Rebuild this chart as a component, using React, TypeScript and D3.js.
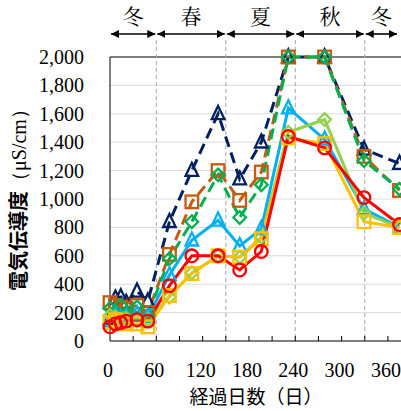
import React from "react";
import * as d3 from "d3";

const days = [0, 7, 14, 21, 35, 49, 77, 106, 140, 168, 196, 231, 278, 329, 375];

const redVals = [100, 120, 130, 140, 150, 140, 390, 600, 600, 500, 630, 1440, 1360, 1010, 820];
const goldVals = [130, 150, 140, 120, 120, 100, 320, 475, 600, 590, 720, 1430, 1390, 840, 800];
const lgreenVals = [180, 170, 150, 160, 140, 150, 310, 480, 600, 590, 730, 1470, 1560, 900, 800];
const blueVals = [140, 180, 160, 170, 190, 170, 465, 710, 850, 670, 790, 1640, 1420, 930, 800];
const brownVals = [270, 250, 240, 230, 250, 200, 610, 980, 1200, 990, 1190, 2000, 2000, 1300, 1060];
const greenVals = [230, 210, 250, 200, 240, 180, 580, 840, 1170, 870, 1100, 2000, 2000, 1270, 1070];
const navyVals = [160, 300, 310, 270, 350, 280, 840, 1200, 1600, 1140, 1400, 2000, 2000, 1350, 1250];

const yTicks = [0, 200, 400, 600, 800, 1000, 1200, 1400, 1600, 1800, 2000];
const xTicks = [0, 60, 120, 180, 240, 300, 360];
const xMinor = d3.range(30, 390, 30);
const seasonBounds = [0, 60, 150, 240, 330, 378];
const seasonNames = ["冬", "春", "夏", "秋", "冬"];
const seasonDividers = [60, 150, 240, 330];

type Series = { vals: number[]; color: string; dashed: boolean; marker: string };
const seriesList: Series[] = [
  { vals: navyVals, color: "#002060", dashed: true, marker: "tri" },
  { vals: brownVals, color: "#C55A11", dashed: true, marker: "sq" },
  { vals: greenVals, color: "#00B050", dashed: true, marker: "dia" },
  { vals: blueVals, color: "#00B0F0", dashed: false, marker: "tri" },
  { vals: lgreenVals, color: "#92D050", dashed: false, marker: "dia" },
  { vals: goldVals, color: "#FFC000", dashed: false, marker: "sq" },
  { vals: redVals, color: "#FF0000", dashed: false, marker: "circ" },
];

const W = 401;
const H = 411;
const x = d3.scaleLinear().domain([0, 390]).range([110, 110 + 390 * 0.772]);
const y = d3.scaleLinear().domain([0, 2000]).range([341, 57]);

function Marker({ kind, cx, cy, color }: { kind: string; cx: number; cy: number; color: string }) {
  const s = 6.3;
  const common = { fill: "none", stroke: color, strokeWidth: 2.3 };
  if (kind === "circ") return <circle cx={cx} cy={cy} r={s} {...common} />;
  if (kind === "sq") return <rect x={cx - s} y={cy - s} width={2 * s} height={2 * s} {...common} />;
  if (kind === "dia")
    return <path d={`M${cx},${cy - s}L${cx + s},${cy}L${cx},${cy + s}L${cx - s},${cy}Z`} {...common} />;
  return <path d={`M${cx},${cy - s - 1.5}L${cx + s},${cy + s - 1}L${cx - s},${cy + s - 1}Z`} {...common} />;
}

export default function App() {
  const line = d3
    .line<number>()
    .x((_, i) => x(days[i]))
    .y((v) => y(v));
  const serif = "Liberation Serif, Times New Roman, serif";
  const cjk = "Noto Sans CJK JP, Noto Sans, sans-serif";
  const mincho = "Noto Serif CJK JP, Liberation Serif, serif";
  const arrowY = 34;
  return (
    <svg width={W} height={H} style={{ position: "absolute", left: 0, top: 0, background: "#fff" }}>
      <defs>
        <marker id="ah" viewBox="0 0 10 10" refX="10" refY="5" markerWidth="5" markerHeight="5" orient="auto-start-reverse" markerUnits="strokeWidth">
          <path d="M0,0L10,5L0,10Z" fill="#000" />
        </marker>
        <clipPath id="plot">
          <rect x={100} y={40} width={301} height={310} />
        </clipPath>
      </defs>
      <rect x={0} y={0} width={W} height={H} fill="#fff" />
      {yTicks.slice(1, -1).map((t) => (
        <line key={t} x1={x(0)} x2={W} y1={y(t)} y2={y(t)} stroke="#d9d9d9" strokeWidth={1} />
      ))}
      <line x1={x(0)} x2={W} y1={y(2000)} y2={y(2000)} stroke="#000" strokeWidth={1.2} />
      {seasonDividers.map((d) => (
        <line key={d} x1={x(d)} x2={x(d)} y1={40} y2={y(0)} stroke="#a6a6a6" strokeWidth={1} strokeDasharray="4,3" />
      ))}
      <line x1={x(0)} x2={x(0)} y1={y(2000)} y2={y(0)} stroke="#000" strokeWidth={1} />
      <line x1={x(0)} x2={W} y1={y(0)} y2={y(0)} stroke="#000" strokeWidth={1.2} />
      {xMinor.map((d) => (
        <line key={d} x1={x(d)} x2={x(d)} y1={y(0)} y2={y(0) - 5} stroke="#000" strokeWidth={1} />
      ))}
      <g clipPath="url(#plot)">
        {seriesList.map((s, si) => (
          <path
            key={si}
            d={line(s.vals) || ""}
            fill="none"
            stroke={s.color}
            strokeWidth={3}
            strokeDasharray={s.dashed ? "11,6" : undefined}
          />
        ))}
        {seriesList.map((s, si) => (
          <g key={"m" + si}>
            {s.vals.map((v, i) => (
              <Marker key={i} kind={s.marker} cx={x(days[i])} cy={y(v)} color={s.color} />
            ))}
          </g>
        ))}
      </g>
      {yTicks.map((t) => (
        <text key={t} x={84} y={y(t)} dy="0.35em" textAnchor="end" style={{ fontFamily: serif }} fontSize={20} fill="#000">
          {d3.format(",")(t)}
        </text>
      ))}
      {xTicks.map((t) => (
        <text key={t} x={x(t) - 2} y={377} textAnchor="middle" style={{ fontFamily: serif }} fontSize={20} fill="#000">
          {t}
        </text>
      ))}
      <text x={256} y={404} textAnchor="middle" style={{ fontFamily: cjk }} fontSize={19} fill="#000">
        経過日数（日）
      </text>
      <text transform="translate(26,195) rotate(-90)" textAnchor="middle" fill="#000">
        <tspan style={{ fontFamily: cjk }} fontSize={20} fontWeight="bold">電気伝導度</tspan>
        <tspan style={{ fontFamily: serif }} fontSize={20}>（μS/cm）</tspan>
      </text>
      {seasonNames.map((n, i) => {
        const a = x(seasonBounds[i]);
        const b = Math.min(x(seasonBounds[i + 1]), 398);
        return (
          <g key={i}>
            <line x1={a + 1} x2={b - 1} y1={arrowY} y2={arrowY} stroke="#000" strokeWidth={1.6} markerStart="url(#ah)" markerEnd="url(#ah)" />
            <text x={(a + b) / 2} y={24} textAnchor="middle" style={{ fontFamily: mincho }} fontSize={21} fill="#000">
              {n}
            </text>
          </g>
        );
      })}
    </svg>
  );
}
